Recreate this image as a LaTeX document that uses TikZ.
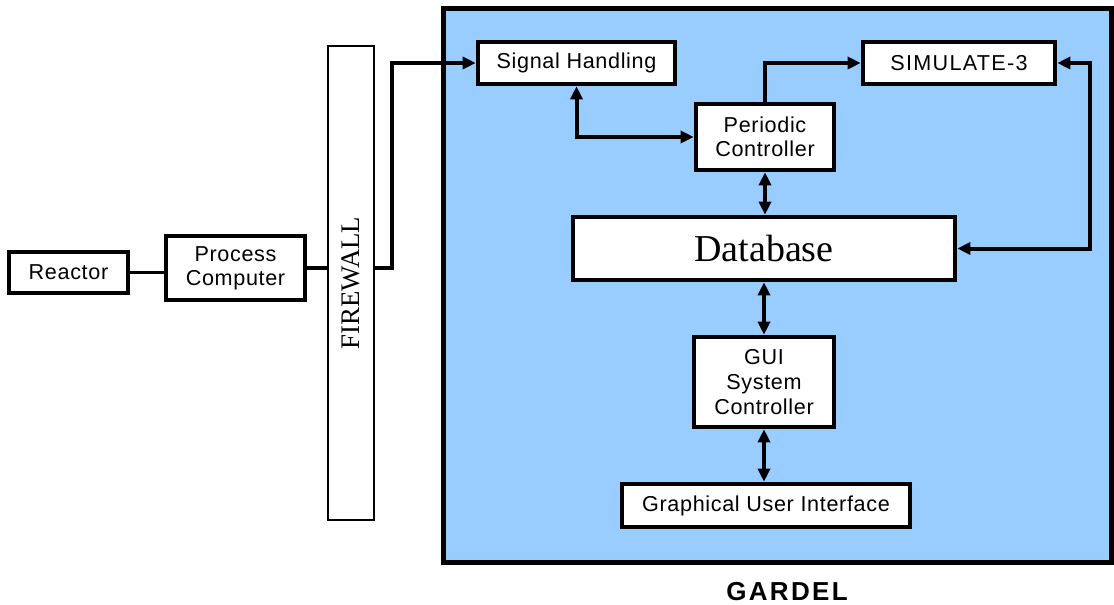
\documentclass[tikz,border=0pt]{standalone}
\usepackage{fontspec}
\setmainfont{Liberation Sans}
\newfontfamily\timesfont{Liberation Serif}
\usetikzlibrary{positioning, arrows.meta}
\definecolor{gardelblue}{HTML}{99CCFF}

\begin{document}
\begin{tikzpicture}[x=0.5pt, y=-0.5pt,
  box/.style={draw, line width=2.3pt, fill=white, align=center, inner sep=0pt,
    font=\fontsize{10.8}{12}\selectfont\addfontfeature{LetterSpace=3}},
  link/.style={line width=2pt},
  arr/.style={link, {Triangle[length=6.5pt,width=6pt]}-{Triangle[length=6.5pt,width=6pt]}},
  toarr/.style={link, -{Triangle[length=6.5pt,width=6pt]}}]
\useasboundingbox (0,0) rectangle (1114,605);

% GARDEL frame
\draw[line width=2.5pt, fill=gardelblue] (443,8) rectangle (1111,562);
\node[font=\bfseries\fontsize{13}{15}\selectfont\addfontfeature{LetterSpace=9}] (gardel) at (787,592) {GARDEL};

% outside
\node[box, minimum width=59.5pt, minimum height=20.5pt] (reactor) at (68.5,272.5) {Reactor};
\node[box, minimum width=69.5pt, minimum height=32pt] (pc) at (235.5,268) {Process\\Computer};
\node[draw, line width=0.6pt, fill=white, minimum width=23pt, minimum height=237pt] (firewall) at (351,283) {};
\node[rotate=90, font=\timesfont\fontsize{13.4}{15}\selectfont] (fwlabel) at (firewall) {FIREWALL};

% inside GARDEL
\node[box, minimum width=98.5pt, minimum height=21pt] (signal) at (576.5,63) {Signal Handling};
\node[box, minimum width=96pt, minimum height=21pt] (sim) at (959,63) {\addfontfeature{LetterSpace=6}SIMULATE-3};
\node[box, minimum width=69pt, minimum height=33pt] (periodic) at (765,137) {Periodic\\Controller};
\node[box, minimum width=191pt, minimum height=31.5pt, font=\timesfont\fontsize{19}{21}\selectfont] (db) at (764,248.5) {Database};
\node[box, minimum width=70pt, minimum height=45pt, font=\fontsize{10.8}{12.5}\selectfont\addfontfeature{LetterSpace=3}] (gui) at (764,382) {GUI\\System\\Controller};
\node[box, minimum width=144pt, minimum height=21.5pt] (ui) at (766,505.5) {Graphical User Interface};

% connectors
\draw[line width=1.5pt] (reactor.east) -- (reactor.east -| pc.west);
\draw[link] (pc.east) -- (pc.east -| firewall.west);
\draw[toarr] (pc.east -| firewall.east) -- ++(17,0) |- (signal.west);
\draw[arr] (signal.south) |- (periodic.west);
\draw[toarr] (periodic.north) |- (sim.west);
\draw[arr] (sim.east) -- ++(33,0) |- (db.east);
\draw[arr] (periodic.south) -- (periodic.south |- db.north);
\draw[arr] (gui.north) -- (db.south);
\draw[arr] (gui.south) -- (gui.south |- ui.north);
\end{tikzpicture}
\end{document}
